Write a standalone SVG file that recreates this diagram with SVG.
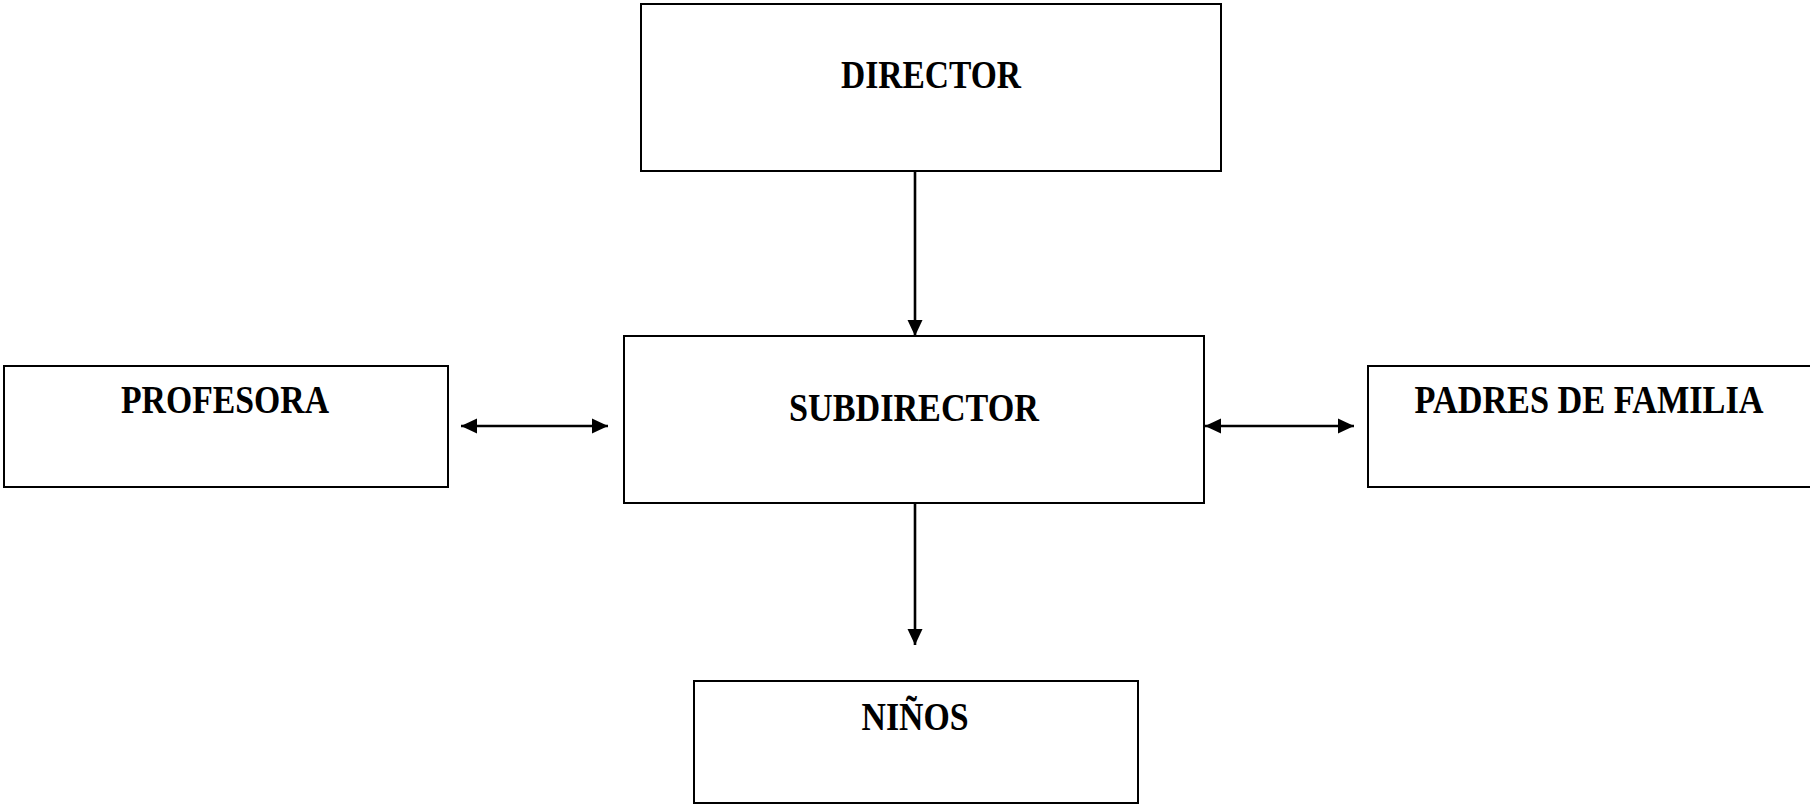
<svg xmlns="http://www.w3.org/2000/svg" width="1810" height="805" viewBox="0 0 1810 805">
<style>
.box{fill:#fff;stroke:#000;stroke-width:2}
.lbl{font-family:"Liberation Serif","Times New Roman",serif;font-weight:bold;font-size:41px;fill:#000;text-anchor:middle}
.con{stroke:#000;stroke-width:2.6;fill:none}
</style>
<defs>
<marker id="ah" viewBox="0 0 16 16" refX="16" refY="8" markerWidth="16" markerHeight="16" markerUnits="userSpaceOnUse" orient="auto-start-reverse">
<path d="M0,0.5 L16,8 L0,15.5 Z" fill="#000"/>
</marker>
</defs>
<rect width="1810" height="805" fill="#fff"/>
<g id="director"><rect class="box" x="641" y="4" width="580" height="167"/><text class="lbl" x="931" y="88" textLength="180" lengthAdjust="spacingAndGlyphs">DIRECTOR</text></g>
<g id="subdirector"><rect class="box" x="624" y="336" width="580" height="167"/><text class="lbl" x="914" y="421" textLength="250" lengthAdjust="spacingAndGlyphs">SUBDIRECTOR</text></g>
<g id="profesora"><rect class="box" x="4" y="366" width="444" height="121"/><text class="lbl" x="225" y="413" textLength="208" lengthAdjust="spacingAndGlyphs">PROFESORA</text></g>
<g id="padres"><rect class="box" x="1368" y="366" width="450" height="121"/><text class="lbl" x="1589" y="413" textLength="349" lengthAdjust="spacingAndGlyphs">PADRES DE FAMILIA</text></g>
<g id="ninos"><rect class="box" x="694" y="681" width="444" height="122"/><text class="lbl" x="915" y="730" textLength="107" lengthAdjust="spacingAndGlyphs">NIÑOS</text></g>
<g id="connectors">
<line class="con" x1="915" y1="171" x2="915" y2="336" marker-end="url(#ah)"/>
<line class="con" x1="915" y1="503" x2="915" y2="645" marker-end="url(#ah)"/>
<line class="con" x1="461" y1="426" x2="608" y2="426" marker-start="url(#ah)" marker-end="url(#ah)"/>
<line class="con" x1="1205" y1="426" x2="1354" y2="426" marker-start="url(#ah)" marker-end="url(#ah)"/>
</g>
</svg>
